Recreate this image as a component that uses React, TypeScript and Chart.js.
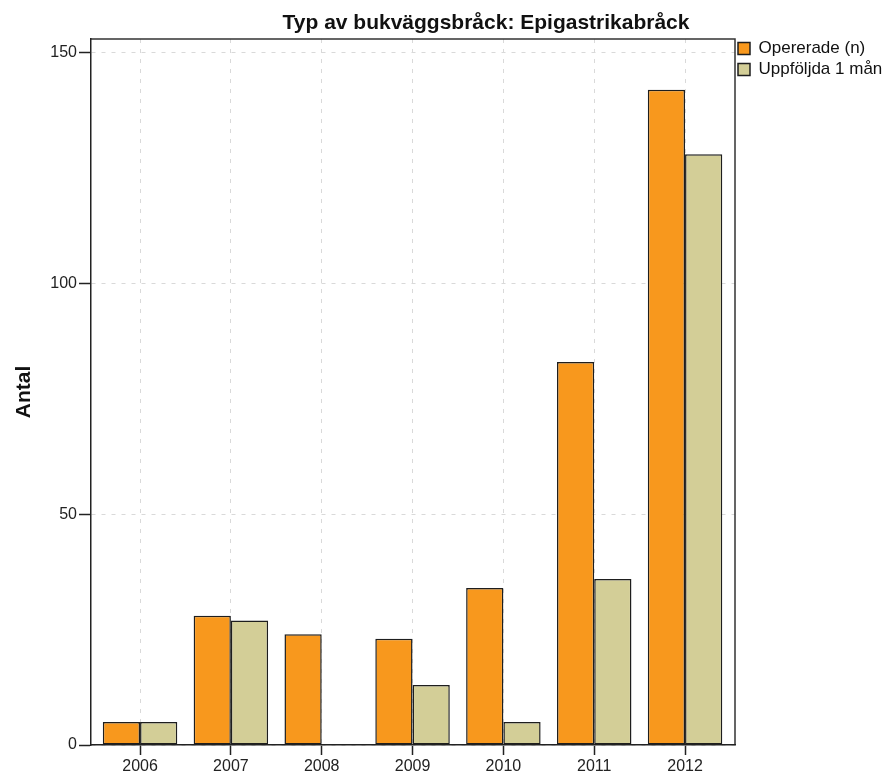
import { useEffect, useRef } from 'react';
import { Chart, registerables } from 'chart.js';

Chart.register(...registerables);

const categories = ['2006', '2007', '2008', '2009', '2010', '2011', '2012'];
const opererade = [5, 28, 24, 23, 34, 83, 142];
const uppfoljda = [5, 27, 0, 13, 5, 36, 128];
const yTicks = [0, 50, 100, 150];
const seriesNames = ['Opererade (n)', 'Uppföljda 1 mån'];
const titleText = 'Typ av bukväggsbråck: Epigastrikabråck';
const yTitle = 'Antal';

const FONT = '"Liberation Sans", Arial, sans-serif';
const W = 885;
const H = 776;

export default function App() {
  const ref = useRef<HTMLCanvasElement | null>(null);

  useEffect(() => {
    if (!ref.current) return;

    const titlePlugin = {
      id: 'customTitle',
      afterDraw(chart: any) {
        const { ctx, chartArea } = chart;
        ctx.save();
        ctx.font = `bold 21px ${FONT}`;
        ctx.fillStyle = '#111';
        ctx.textAlign = 'center';
        ctx.textBaseline = 'alphabetic';
        ctx.fillText(titleText, (chartArea.left + chart.width) / 2 - 2, 29);
        ctx.restore();
      },
    };

    const framePlugin = {
      id: 'frame',
      afterDatasetsDraw(chart: any) {
        const { ctx, chartArea: a } = chart;
        ctx.save();
        ctx.strokeStyle = '#333';
        ctx.lineWidth = 1.5;
        ctx.beginPath();
        ctx.moveTo(a.left, a.top);
        ctx.lineTo(a.right, a.top);
        ctx.lineTo(a.right, a.bottom);
        ctx.stroke();
        ctx.restore();
      },
    };

    const legendShift = {
      id: 'legendShift',
      afterLayout(chart: any) {
        if (chart.legend) {
          chart.legend.top -= 3;
          chart.legend.bottom -= 3;
          chart.legend.left -= 1;
          chart.legend.right -= 1;
        }
      },
    };

    const gridCommon = {
      color: '#d9d9d9',
      lineWidth: 1,
      tickColor: '#222',
      tickWidth: 1.5,
      tickBorderDash: [],
      offset: false,
    };

    const chart = new Chart(ref.current, {
      type: 'bar',
      data: {
        datasets: [
          {
            label: seriesNames[0],
            data: categories.map((_, i) => ({ x: i, y: opererade[i] })),
            backgroundColor: '#F8981D',
            borderColor: '#1e1e1e',
            borderWidth: 1.5,
            borderSkipped: false,
          },
          {
            label: seriesNames[1],
            data: categories.map((_, i) => ({ x: i, y: uppfoljda[i] })),
            backgroundColor: '#D3CE97',
            borderColor: '#1e1e1e',
            borderWidth: 1.5,
            borderSkipped: false,
          },
        ],
      },
      options: {
        animation: false,
        responsive: false,
        devicePixelRatio: 1,
        layout: { padding: { top: 39, left: 0, right: 0, bottom: 0 } },
        datasets: { bar: { categoryPercentage: 0.82, barPercentage: 1.0 } },
        scales: {
          x: {
            type: 'linear',
            offset: false,
            min: -0.54,
            max: 6.55,
            afterBuildTicks: (s: any) => {
              s.ticks = categories.map((_, i) => ({ value: i }));
            },
            afterFit: (s: any) => {
              s.height = 31;
            },
            grid: { ...gridCommon, tickLength: 10 },
            border: { color: '#222', width: 1.5, dash: [4, 6], z: 1 },
            ticks: {
              callback: (v: any) => categories[v] ?? '',
              font: { size: 16, family: FONT },
              color: '#222',
              padding: 2,
              maxRotation: 0,
              autoSkip: false,
            },
          },
          y: {
            min: 0,
            max: 153,
            afterBuildTicks: (s: any) => {
              s.ticks = yTicks.map((v) => ({ value: v }));
            },
            afterFit: (s: any) => {
              s.width = 91;
            },
            grid: { ...gridCommon, tickLength: 12 },
            border: { color: '#222', width: 1.5, dash: [4, 6], z: 1 },
            ticks: {
              font: { size: 16, family: FONT },
              color: '#222',
              padding: 2,
            },
            title: {
              display: true,
              text: yTitle,
              font: { size: 21, weight: 'bold', family: FONT },
              color: '#111',
              padding: { top: 12, bottom: 0 },
            },
          },
        },
        plugins: {
          legend: {
            position: 'right',
            align: 'start',
            maxWidth: 150,
            labels: {
              boxWidth: 12,
              boxHeight: 12,
              padding: 4,
              font: { size: 17, family: FONT },
              color: '#111',
            },
          },
          title: { display: false },
          tooltip: { enabled: false },
        },
      },
      plugins: [titlePlugin, framePlugin, legendShift],
    } as any);

    return () => chart.destroy();
  }, []);

  return (
    <div style={{ position: 'absolute', left: 0, top: 0, width: W, height: H, background: '#fff' }}>
      <canvas ref={ref} width={W} height={H} style={{ width: W, height: H, display: 'block' }} />
    </div>
  );
}
